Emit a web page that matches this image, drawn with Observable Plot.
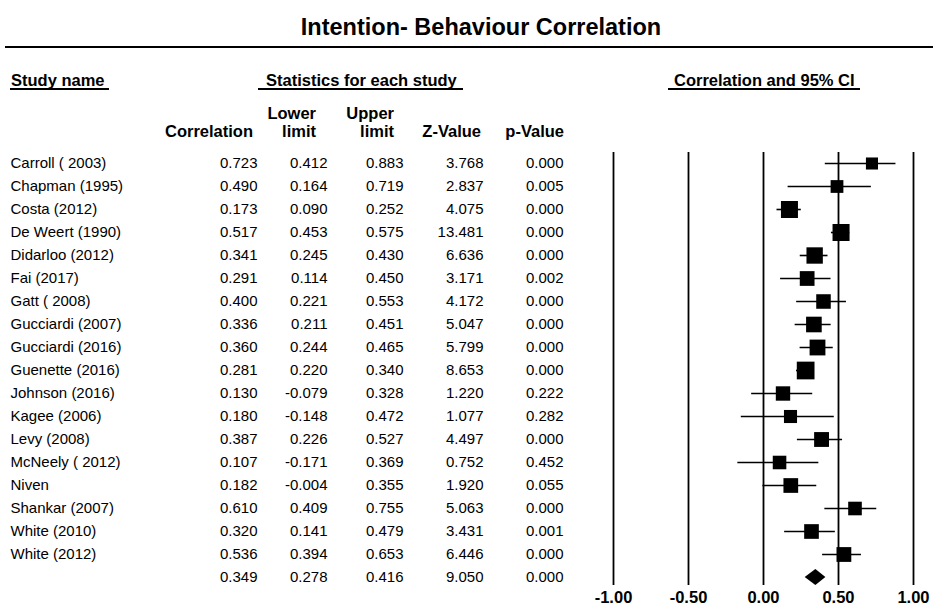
<!DOCTYPE html>
<html>
<head>
<meta charset="utf-8">
<script src="https://cdn.jsdelivr.net/npm/d3@7"></script>
<script src="https://cdn.jsdelivr.net/npm/@observablehq/plot@0.6"></script>
<style>
  html, body { margin: 0; padding: 0; background: #fff; }
  body { font-family: "Liberation Sans", Arial, Helvetica, sans-serif; color: #000; }
  #page { position: relative; width: 933px; height: 612px; overflow: hidden; }
  #head { position: relative; width: 933px; height: 150px; }
  #head .t { position: absolute; white-space: nowrap; }
  .title { left: 0; width: 962px; top: 0; line-height: 55px; text-align: center; font-weight: bold; font-size: 23.5px; }
  .hr { position: absolute; left: 5px; width: 928px; top: 46px; height: 2px; background: #000; }
  .sec { font-weight: bold; font-size: 16.5px; line-height: 18px; top: 71px; }
  .uline { position: absolute; top: 88px; height: 1.5px; background: #000; }
  .col { font-weight: bold; font-size: 16.5px; line-height: 18px; transform: translateX(-100%); }
  .l1 { top: 104px; }
  .l2 { top: 122px; }
  #plot svg { display: block; }
</style>
</head>
<body>
<div id="page">
  <div id="head">
    <div class="t title">Intention- Behaviour Correlation</div>
    <div class="hr"></div>

    <div class="t sec" style="left:11px">Study name</div>
    <div class="uline" style="left:10px;width:99px"></div>
    <div class="t sec" style="left:266px">Statistics for each study</div>
    <div class="uline" style="left:258px;width:205px"></div>
    <div class="t sec" style="left:674px">Correlation and 95% CI</div>
    <div class="uline" style="left:668px;width:192px"></div>

    <div class="t col l2" style="left:253px">Correlation</div>
    <div class="t col l1" style="left:316px">Lower</div>
    <div class="t col l2" style="left:316px">limit</div>
    <div class="t col l1" style="left:394px">Upper</div>
    <div class="t col l2" style="left:394px">limit</div>
    <div class="t col l2" style="left:481px">Z-Value</div>
    <div class="t col l2" style="left:564px">p-Value</div>
  </div>
  <div id="plot"></div>
</div>
<script>
// Study-level results (correlation with 95% CI, Z and p)
const studies = ["Carroll ( 2003)", "Chapman (1995)", "Costa (2012)", "De Weert (1990)", "Didarloo (2012)",
  "Fai (2017)", "Gatt ( 2008)", "Gucciardi (2007)", "Gucciardi (2016)", "Guenette (2016)", "Johnson (2016)",
  "Kagee (2006)", "Levy (2008)", "McNeely ( 2012)", "Niven", "Shankar (2007)", "White (2010)", "White (2012)"];
const correlation = [0.723, 0.490, 0.173, 0.517, 0.341, 0.291, 0.400, 0.336, 0.360, 0.281, 0.130, 0.180, 0.387, 0.107, 0.182, 0.610, 0.320, 0.536];
const lowerLimit  = [0.412, 0.164, 0.090, 0.453, 0.245, 0.114, 0.221, 0.211, 0.244, 0.220, -0.079, -0.148, 0.226, -0.171, -0.004, 0.409, 0.141, 0.394];
const upperLimit  = [0.883, 0.719, 0.252, 0.575, 0.430, 0.450, 0.553, 0.451, 0.465, 0.340, 0.328, 0.472, 0.527, 0.369, 0.355, 0.755, 0.479, 0.653];
const zValue      = [3.768, 2.837, 4.075, 13.481, 6.636, 3.171, 4.172, 5.047, 5.799, 8.653, 1.220, 1.077, 4.497, 0.752, 1.920, 5.063, 3.431, 6.446];
const pValue      = [0.000, 0.005, 0.000, 0.000, 0.000, 0.002, 0.000, 0.000, 0.000, 0.000, 0.222, 0.282, 0.000, 0.452, 0.055, 0.000, 0.001, 0.000];

// Pooled estimate: correlation, lower, upper, Z, p
const pooled = [0.349, 0.278, 0.416, 9.050, 0.000];

// Axis ticks for the correlation scale
const xTicks = [-1, -0.5, 0, 0.5, 1];

// Inverse-variance weight from the CI on Fisher's z scale
const weightOf = (lo, hi) => {
  const se = (Math.atanh(hi) - Math.atanh(lo)) / (2 * 1.959964);
  return 1 / (se * se);
};

const rows = studies.map((name, i) => ({
  key: String(i), name,
  r: correlation[i], lo: lowerLimit[i], hi: upperLimit[i], z: zValue[i], p: pValue[i],
  w: weightOf(lowerLimit[i], upperLimit[i])
}));
const pooledRow = {key: "pooled", name: "", r: pooled[0], lo: pooled[1], hi: pooled[2], z: pooled[3], p: pooled[4]};
const table = [...rows, pooledRow];

const f3 = v => v.toFixed(3);
const cellFont = {fontSize: 15, frameAnchor: "left", textAnchor: "end"};

// Diamond for the pooled effect, drawn through the x and y scales
const diamond = (index, scales) => {
  const x = scales.x, y = scales.y;
  const cy = y(pooledRow.key), h = 8;
  const path = document.createElementNS("http://www.w3.org/2000/svg", "path");
  path.setAttribute("d",
    `M${x(pooledRow.lo)},${cy}L${x(pooledRow.r)},${cy - h}L${x(pooledRow.hi)},${cy}L${x(pooledRow.r)},${cy + h}Z`);
  path.setAttribute("fill", "black");
  return path;
};

const chart = Plot.plot({
  width: 933,
  height: 462,
  marginLeft: 0,
  marginRight: 0,
  marginTop: 12,
  marginBottom: 34,
  style: {fontFamily: "'Liberation Sans', Arial, Helvetica, sans-serif", color: "black", background: "white", overflow: "visible"},
  x: {domain: [-1, 1], range: [613, 913]},
  y: {type: "point", domain: table.map(d => d.key), padding: 0, axis: null},
  r: {type: "log", domain: d3.extent(rows, d => d.w), range: [6.8, 10]},
  marks: [
    // reference lines
    Plot.ruleX(xTicks, {stroke: "black", strokeWidth: 1.8, insetTop: -10, insetBottom: -7}),
    // confidence intervals
    Plot.ruleY(rows, {y: "key", x1: "lo", x2: "hi", stroke: "black", strokeWidth: 1.6}),
    // study point estimates, sized by weight
    Plot.dot(rows, {x: "r", y: "key", r: "w", symbol: "square", fill: "black", stroke: "none"}),
    diamond,
    // table columns
    Plot.text(table, {y: "key", text: "name", fontSize: 15, frameAnchor: "left", textAnchor: "start", dx: 10}),
    Plot.text(table, {y: "key", text: d => f3(d.r), ...cellFont, dx: 257}),
    Plot.text(table, {y: "key", text: d => f3(d.lo), ...cellFont, dx: 327}),
    Plot.text(table, {y: "key", text: d => f3(d.hi), ...cellFont, dx: 403}),
    Plot.text(table, {y: "key", text: d => f3(d.z), ...cellFont, dx: 483}),
    Plot.text(table, {y: "key", text: d => f3(d.p), ...cellFont, dx: 563}),
    // x axis
    Plot.axisX(xTicks, {tickFormat: d => d.toFixed(2), tickSize: 0, tickPadding: 13, fontSize: 16.5, fontWeight: "bold", label: null})
  ]
});

document.getElementById("plot").appendChild(chart);
</script>
</body>
</html>
